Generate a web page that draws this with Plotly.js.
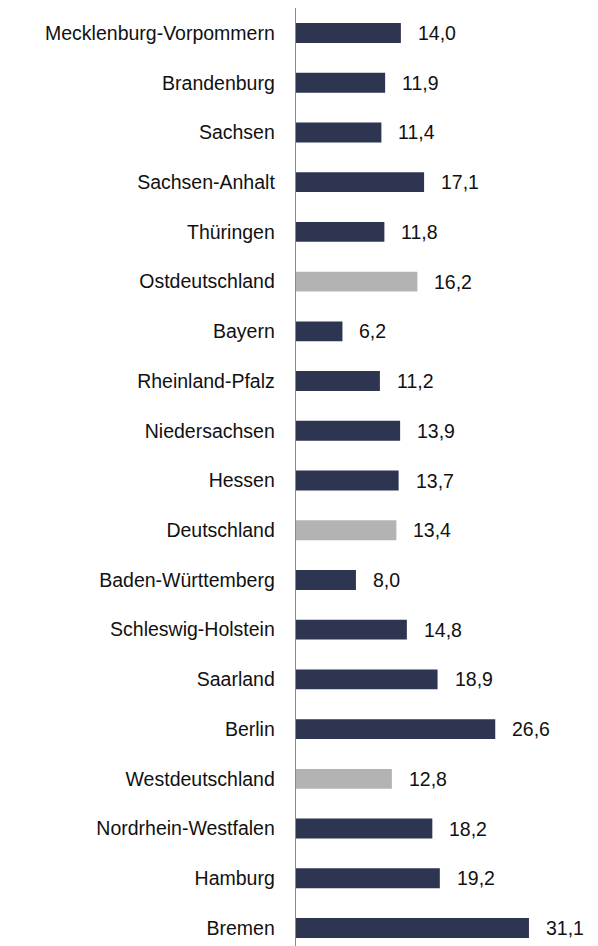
<!DOCTYPE html>
<html>
<head>
<meta charset="utf-8">
<script src="https://cdn.plot.ly/plotly-3.0.1.min.js"></script>
<style>html,body{margin:0;padding:0;background:#fff;}#chart{width:598px;height:946px;}</style>
</head>
<body>
<div id="chart"></div>
<script>
const categories = ["Mecklenburg-Vorpommern","Brandenburg","Sachsen","Sachsen-Anhalt","Thüringen","Ostdeutschland","Bayern","Rheinland-Pfalz","Niedersachsen","Hessen","Deutschland","Baden-Württemberg","Schleswig-Holstein","Saarland","Berlin","Westdeutschland","Nordrhein-Westfalen","Hamburg","Bremen"];
const values = [14.0,11.9,11.4,17.1,11.8,16.2,6.2,11.2,13.9,13.7,13.4,8.0,14.8,18.9,26.6,12.8,18.2,19.2,31.1];
const aggregates = ["Ostdeutschland","Deutschland","Westdeutschland"];

const darkColor = "#2d3550";
const greyColor = "#b3b3b3";
const colors = categories.map(c => aggregates.includes(c) ? greyColor : darkColor);
const labels = values.map(v => v.toFixed(1).replace(".", ","));

const font = {family: "Arial, 'Liberation Sans', sans-serif", size: 19.5, color: "#111"};

const trace = {
  type: "bar",
  orientation: "h",
  y: categories,
  x: values,
  marker: {color: colors, line: {width: 0}},
  width: 0.4,
  hoverinfo: "none"
};

const annotations = categories.map((c, i) => ({
  x: values[i], y: c, xref: "x", yref: "y",
  text: labels[i], showarrow: false,
  xanchor: "left", yanchor: "middle", xshift: 15,
  font: font
}));

const layout = {
  width: 598, height: 946,
  margin: {l: 296, r: 2, t: 8, b: 0},
  paper_bgcolor: "#fff", plot_bgcolor: "#fff",
  showlegend: false,
  xaxis: {range: [0, 40.05], visible: false, fixedrange: true},
  yaxis: {
    type: "category",
    range: [18.362, -0.503],
    showline: true, linecolor: "#8c8c8c", linewidth: 1.3,
    showgrid: false, zeroline: false,
    ticks: "", ticklabelstandoff: 16,
    tickfont: font
  },
  annotations: annotations
};

Plotly.newPlot("chart", [trace], layout, {displayModeBar: false, staticPlot: true});
</script>
</body>
</html>
